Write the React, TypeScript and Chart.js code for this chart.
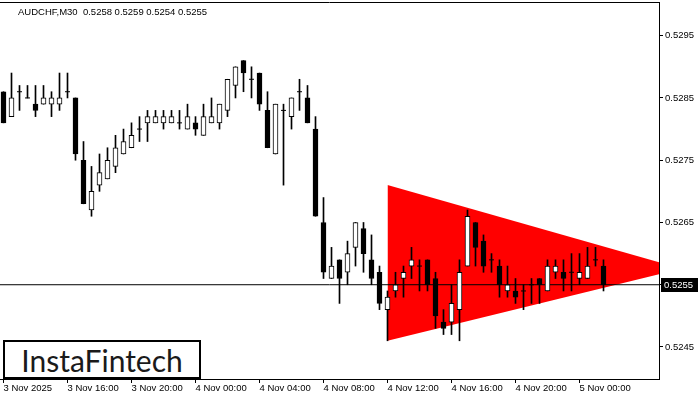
import React, { useEffect, useRef } from "react";
import { Chart, registerables } from "chart.js";

Chart.register(...registerables);

const titleText = "AUDCHF,M30  0.5258 0.5259 0.5254 0.5255";
const logoText = "InstaFintech";

const timeLabels = [
  "3 Nov 2025",
  "3 Nov 16:00",
  "3 Nov 20:00",
  "4 Nov 00:00",
  "4 Nov 04:00",
  "4 Nov 08:00",
  "4 Nov 12:00",
  "4 Nov 16:00",
  "4 Nov 20:00",
  "5 Nov 00:00",
];
const timeLabelIndex = [0, 8, 16, 24, 32, 40, 48, 56, 64, 72];
const priceTicks = [0.5245, 0.5255, 0.5265, 0.5275, 0.5285, 0.5295];

const opens = [
  0.5286, 0.5282, 0.5286, 0.5285, 0.5284, 0.5284, 0.5284, 0.5284, 0.5286, 0.5285,
  0.5275, 0.5267, 0.5271, 0.5272, 0.5274, 0.5276, 0.5277, 0.528, 0.5281, 0.5281,
  0.5281, 0.5281, 0.5281, 0.528, 0.5281, 0.5279, 0.5281, 0.5281, 0.5283, 0.5287,
  0.5291, 0.5288, 0.5289, 0.5283, 0.5276, 0.5283, 0.5282, 0.5286, 0.5285, 0.528,
  0.5265, 0.5256, 0.5259, 0.5257, 0.5261, 0.5264, 0.5259, 0.5257, 0.5251, 0.5254,
  0.5256, 0.5258, 0.5258, 0.5259, 0.5256, 0.5249, 0.5249, 0.5251, 0.5258, 0.5265,
  0.5262, 0.5259, 0.5258, 0.5254, 0.5254, 0.5254, 0.5255, 0.5256, 0.5254, 0.5257,
  0.5257, 0.5257, 0.5256, 0.5256, 0.5259, 0.5258,
];
const highs = [
  0.5286, 0.5289, 0.5287, 0.5287, 0.5287, 0.5287, 0.5286, 0.5289, 0.5289, 0.5285,
  0.5278, 0.5274, 0.5276, 0.5277, 0.5279, 0.528, 0.5281, 0.5282, 0.5283, 0.5283,
  0.5283, 0.5283, 0.5283, 0.5284, 0.5282, 0.5284, 0.5285, 0.5284, 0.5288, 0.529,
  0.5291, 0.529, 0.5289, 0.5286, 0.5284, 0.5284, 0.5285, 0.5288, 0.5287, 0.5282,
  0.5269, 0.5261, 0.5259, 0.5262, 0.5265, 0.5265, 0.5263, 0.5258, 0.5254, 0.5257,
  0.5258, 0.5261, 0.5259, 0.5259, 0.5257, 0.5251, 0.5255, 0.5259, 0.5267, 0.5265,
  0.5263, 0.526, 0.5259, 0.5258, 0.5256, 0.5255, 0.5256, 0.5256, 0.5259, 0.5259,
  0.5259, 0.526, 0.526, 0.5261, 0.5261, 0.5259,
];
const lows = [
  0.5281, 0.5282, 0.5283, 0.5285, 0.5282, 0.5284, 0.5282, 0.5283, 0.5285, 0.5275,
  0.5268, 0.5266, 0.527, 0.5272, 0.5273, 0.5276, 0.5277, 0.5278, 0.5278, 0.5281,
  0.528, 0.5281, 0.528, 0.528, 0.5279, 0.5279, 0.5281, 0.528, 0.5282, 0.5285,
  0.5286, 0.5285, 0.5283, 0.5277, 0.5276, 0.5271, 0.528, 0.5283, 0.5281, 0.5266,
  0.5256, 0.5256, 0.5252, 0.5255, 0.5258, 0.5257, 0.5255, 0.5251, 0.5246, 0.5253,
  0.5253, 0.5256, 0.5254, 0.5254, 0.5248, 0.5247, 0.5247, 0.5246, 0.5258, 0.5258,
  0.5257, 0.5257, 0.5253, 0.5253, 0.5252, 0.5251, 0.5252, 0.5252, 0.5254, 0.5256,
  0.5254, 0.5254, 0.5255, 0.5256, 0.5258, 0.5254,
];
const closes = [
  0.5281, 0.5285, 0.5286, 0.5285, 0.5283, 0.5285, 0.5285, 0.5285, 0.5286, 0.5276,
  0.5268, 0.527, 0.5273, 0.5275, 0.5277, 0.5278, 0.5279, 0.528, 0.5282, 0.5282,
  0.5282, 0.5282, 0.5281, 0.5282, 0.528, 0.5282, 0.5282, 0.5284, 0.5288, 0.529,
  0.5289, 0.5288, 0.5284, 0.5277, 0.5284, 0.5283, 0.5285, 0.5286, 0.5281, 0.5266,
  0.5257, 0.5258, 0.5256, 0.526, 0.5265, 0.526, 0.5256, 0.5252, 0.5253, 0.5255,
  0.5257, 0.5259, 0.5258, 0.5255, 0.525, 0.5248, 0.5252, 0.5257, 0.5266, 0.5261,
  0.5258, 0.5259, 0.5255, 0.5255, 0.5253, 0.5254, 0.5255, 0.5255, 0.5258, 0.5258,
  0.5256, 0.5257, 0.5257, 0.5258, 0.5259, 0.5255,
];

const currentPrice = 0.5255;
const triangleX = [48, 82];
const triangleUpper = [0.5271, 0.52586];
const triangleLower = [0.5246, 0.52567];

const xMin = -0.4375;
const xMax = 81.9375;
const yMin = 0.523986;
const yMax = 0.530041;

const FONT = '"Liberation Sans", Arial, sans-serif';

export default function App() {
  const ref = useRef<HTMLCanvasElement>(null);

  useEffect(() => {
    const canvas = ref.current;
    if (!canvas) return;
    Chart.defaults.font.family = FONT;
    Chart.defaults.color = "#000";

    const idx = opens.map((_, i) => i);
    const wickData = idx.map((i) => ({ x: i, y: [lows[i], highs[i]] }));
    const bodyIdx = idx.filter((i) => opens[i] !== closes[i]);
    const bodyData = bodyIdx.map((i) => ({
      x: i,
      y: [Math.min(opens[i], closes[i]), Math.max(opens[i], closes[i])],
    }));
    const bodyColors = bodyIdx.map((i) => (closes[i] > opens[i] ? "#ffffff" : "#000000"));
    const dojiData = idx
      .filter((i) => opens[i] === closes[i])
      .map((i) => ({ x: i, y: opens[i] }));

    const overlayPlugin = {
      id: "mtOverlay",
      afterDraw(chart: any) {
        const { ctx, chartArea } = chart;
        const y = chart.scales.y;
        ctx.save();
        ctx.strokeStyle = "#000";
        ctx.lineWidth = 1;
        ctx.beginPath();
        ctx.moveTo(chartArea.left, chartArea.top + 0.5);
        ctx.lineTo(chartArea.right, chartArea.top + 0.5);
        ctx.stroke();
        const py = y.getPixelForValue(currentPrice);
        ctx.fillStyle = "#000";
        ctx.fillRect(chartArea.right + 2, Math.round(py) - 7, 37, 14);
        ctx.fillStyle = "#fff";
        ctx.font = "9.5px " + FONT;
        ctx.textAlign = "left";
        ctx.textBaseline = "middle";
        ctx.fillText(currentPrice.toFixed(4), chartArea.right + 5, py + 0.5);
        ctx.restore();
      },
    };

    const chart = new Chart(canvas, {
      type: "bar",
      data: {
        datasets: [
          {
            type: "bar",
            label: "body",
            data: bodyData as any,
            backgroundColor: bodyColors,
            borderColor: "#000",
            borderWidth: 1,
            borderSkipped: false,
            barThickness: 5,
            grouped: false,
            order: 0,
          } as any,
          {
            type: "line",
            label: "doji",
            data: dojiData,
            showLine: false,
            pointStyle: "line",
            pointRadius: 2.5,
            pointBorderColor: "#000",
            pointBorderWidth: 1,
            order: 0,
          } as any,
          {
            type: "bar",
            label: "wick",
            data: wickData as any,
            backgroundColor: "#000",
            borderWidth: 0,
            barThickness: 1,
            grouped: false,
            order: 1,
          } as any,
          {
            type: "line",
            label: "price",
            data: [
              { x: xMin, y: currentPrice },
              { x: xMax, y: currentPrice },
            ],
            borderColor: "#000",
            borderWidth: 1,
            pointRadius: 0,
            order: 2,
          } as any,
          {
            type: "line",
            label: "upper",
            data: triangleX.map((x, i) => ({ x, y: triangleUpper[i] })),
            borderColor: "#ff0000",
            borderWidth: 0,
            pointRadius: 0,
            fill: false,
            order: 3,
          } as any,
          {
            type: "line",
            label: "lower",
            data: triangleX.map((x, i) => ({ x, y: triangleLower[i] })),
            borderColor: "#ff0000",
            backgroundColor: "#ff0000",
            borderWidth: 0,
            pointRadius: 0,
            fill: "-1",
            order: 3,
          } as any,
        ],
      },
      options: {
        responsive: false,
        animation: false,
        devicePixelRatio: 1,
        layout: { autoPadding: false, padding: { top: 2, left: 0, right: 0, bottom: 0 } },
        plugins: {
          legend: { display: false },
          tooltip: { enabled: false },
          title: { display: false },
        },
        scales: {
          x: {
            type: "linear",
            min: xMin,
            max: xMax,
            offset: false,
            grid: {
              display: true,
              drawOnChartArea: false,
              drawTicks: true,
              tickLength: 4,
              color: "#000",
              offset: false,
            },
            border: { display: true, color: "#000" },
            ticks: {
              align: "start",
              autoSkip: false,
              maxRotation: 0,
              padding: 0,
              font: { size: 9.5 },
              color: "#000",
              callback: (v: any) => {
                const k = timeLabelIndex.indexOf(Number(v));
                return k >= 0 ? timeLabels[k] : "";
              },
            },
            afterBuildTicks: (scale: any) => {
              scale.ticks = timeLabelIndex.map((v) => ({ value: v }));
            },
            afterFit: (scale: any) => {
              scale.height = 21;
              scale.paddingLeft = 0;
              scale.paddingRight = 0;
            },
          },
          y: {
            type: "linear",
            position: "right",
            min: yMin,
            max: yMax,
            beginAtZero: false,
            grid: {
              display: true,
              drawOnChartArea: false,
              drawTicks: true,
              tickLength: 4,
              color: "#000",
            },
            border: { display: true, color: "#000" },
            ticks: {
              padding: 2,
              font: { size: 9.5 },
              color: "#000",
              callback: (v: any) => Number(v).toFixed(4),
            },
            afterBuildTicks: (scale: any) => {
              scale.ticks = priceTicks.map((v) => ({ value: v }));
            },
            afterFit: (scale: any) => {
              scale.width = 41;
              scale.paddingTop = 0;
              scale.paddingBottom = 0;
            },
          },
        },
      } as any,
      plugins: [overlayPlugin],
    });

    return () => chart.destroy();
  }, []);

  return (
    <div
      style={{
        position: "fixed",
        left: 0,
        top: 0,
        width: 700,
        height: 400,
        background: "#fff",
        overflow: "hidden",
      }}
    >
      <canvas ref={ref} width={700} height={400} style={{ display: "block" }} />
      <div
        style={{
          position: "absolute",
          left: 18,
          top: 6,
          font: "9.5px " + FONT,
          lineHeight: "11px",
          whiteSpace: "pre",
          color: "#000",
        }}
      >
        {titleText}
      </div>
      <div
        style={{
          position: "absolute",
          left: 3,
          top: 340,
          width: 198,
          height: 39,
          boxSizing: "border-box",
          border: "2px solid #000",
          background: "#fff",
          display: "flex",
          alignItems: "center",
          justifyContent: "center",
          font: "30px Lato, sans-serif",
          color: "#1a1a1a",
        }}
      >
        {logoText}
      </div>
    </div>
  );
}
